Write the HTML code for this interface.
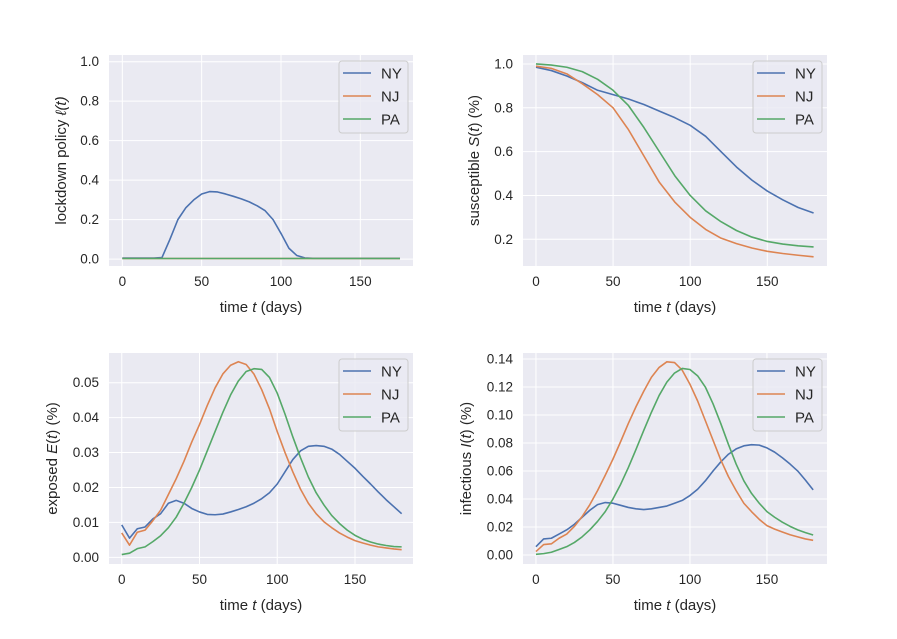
<!DOCTYPE html>
<html><head><meta charset="utf-8">
<style>
html,body{margin:0;padding:0;background:#fff;}
svg{display:block;font-family:"Liberation Sans",sans-serif;}
</style></head>
<body>
<svg id="fig" width="897" height="639" viewBox="0 0 897 639" xmlns="http://www.w3.org/2000/svg"></svg>
<script>
const states = ["NY","NJ","PA"];
const colors = ["#4c72b0","#dd8452","#55a868"];
const tLock = [0,5,10,15,20,25,30,35,40,45,50,55,60,65,70,75,80,85,90,95,100,105,110,115,120,125,130,135,140,145,150,155,160,165,170,175];
const lockNY = [0.005,0.005,0.005,0.005,0.005,0.008,0.1,0.2,0.26,0.3,0.33,0.342,0.34,0.33,0.318,0.305,0.29,0.27,0.245,0.2,0.13,0.055,0.018,0.006,0.004,0.004,0.004,0.004,0.004,0.004,0.004,0.004,0.004,0.004,0.004,0.004];
const lockNJ = tLock.map(()=>0.003);
const lockPA = tLock.map(()=>0.003);
const tS = [0,10,20,30,40,50,60,70,80,90,100,110,120,130,140,150,160,170,180];
const sNY = [0.985,0.97,0.945,0.915,0.88,0.86,0.84,0.815,0.785,0.755,0.72,0.67,0.6,0.53,0.47,0.42,0.38,0.345,0.32];
const sNJ = [0.99,0.98,0.955,0.91,0.86,0.8,0.7,0.58,0.46,0.37,0.3,0.245,0.205,0.18,0.16,0.145,0.135,0.127,0.12];
const sPA = [1.0,0.995,0.985,0.965,0.93,0.88,0.81,0.71,0.6,0.49,0.4,0.33,0.28,0.24,0.21,0.19,0.178,0.17,0.165];
const tEI = [0,5,10,15,20,25,30,35,40,45,50,55,60,65,70,75,80,85,90,95,100,105,110,115,120,125,130,135,140,145,150,155,160,165,170,175,180];
const eNY = [.0093,.0055,.0082,.0087,.011,.0125,.0155,.0163,.0155,.014,.013,.0123,.0122,.0124,.013,.0137,.0145,.0155,.0168,.0185,.021,.0245,.028,.0305,.0318,.032,.0318,.031,.0295,.0275,.0255,.0232,.021,.0187,.0165,.0145,.0125];
const eNJ = [.007,.0035,.0072,.0078,.0105,.0135,.018,.0225,.0275,.033,.038,.0435,.0485,.0525,.055,.056,.0552,.0525,.048,.0425,.036,.03,.0245,.0195,.0155,.0125,.0102,.0085,.007,.0058,.0048,.0041,.0035,.003,.0027,.0024,.0022];
const ePA = [.0008,.0012,.0025,.003,.0045,.0062,.0085,.0115,.0155,.02,.025,.0305,.036,.0415,.0465,.0505,.0532,.054,.0538,.0515,.047,.041,.0345,.0285,.023,.0185,.015,.012,.0097,.0078,.0063,.0052,.0044,.0038,.0034,.0031,.003];
const iNY = [.006,.0115,.012,.015,.018,.022,.027,.032,.036,.0375,.037,.0355,.034,.033,.0325,.033,.034,.035,.037,.039,.0425,.047,.053,.06,.0665,.072,.0758,.078,.0788,.0785,.0765,.0735,.0695,.065,.06,.0535,.0465];
const iNJ = [.0025,.0075,.008,.012,.015,.0205,.0275,.036,.046,.057,.0685,.081,.094,.106,.117,.127,.134,.138,.1375,.132,.122,.11,.096,.082,.068,.056,.046,.037,.031,.0255,.021,.0185,.0165,.0145,.013,.0115,.0105];
const iPA = [.0005,.001,.002,.004,.006,.009,.013,.018,.024,.031,.04,.0505,.0625,.0755,.089,.102,.114,.1235,.13,.1333,.1325,.128,.12,.108,.094,.079,.065,.053,.044,.037,.031,.027,.0235,.0205,.018,.016,.0143];
const xTicks = [0,50,100,150];
const yTicksL = [0,0.2,0.4,0.6,0.8,1.0];
const yTicksS = [0.2,0.4,0.6,0.8,1.0];
const yTicksE = [0,0.01,0.02,0.03,0.04,0.05];
const yTicksI = [0,0.02,0.04,0.06,0.08,0.10,0.12,0.14];

const NS="http://www.w3.org/2000/svg";
const svg=document.getElementById('fig');
function mk(tag,attrs,parent){const e=document.createElementNS(NS,tag);for(const k in attrs)e.setAttribute(k,attrs[k]);(parent||svg).appendChild(e);return e;}

function panel(cfg){
  const g=mk('g',{});
  
  
  const L=cfg.box[0],T=cfg.box[1],R=cfg.box[2],B=cfg.box[3];
  const sx=v=>L+(v-cfg.xd[0])/(cfg.xd[1]-cfg.xd[0])*(R-L);
  const sy=v=>B-(v-cfg.yd[0])/(cfg.yd[1]-cfg.yd[0])*(B-T);
  const bg=mk('rect',{x:L,y:T,width:R-L,height:B-T,fill:'#eaeaf2'},g);
  
  
  xTicks.forEach(v=>{
    mk('line',{x1:sx(v),x2:sx(v),y1:T,y2:B,stroke:'#fff','stroke-width':1},g);
    const t=mk('text',{x:sx(v),y:B+20,'text-anchor':'middle','font-size':13.5,fill:'#262626'},g);
    t.textContent=String(v);
    
    
  });
  cfg.yt.forEach(v=>{
    mk('line',{x1:L,x2:R,y1:sy(v),y2:sy(v),stroke:'#fff','stroke-width':1},g);
    const t=mk('text',{x:L-10,y:sy(v)+4.5,'text-anchor':'end','font-size':13.5,fill:'#262626'},g);
    t.textContent=v.toFixed(cfg.dec);
    
    
  });
  cfg.series.forEach((s,i)=>{
    const d=cfg.t.map((tv,j)=>(j?'L':'M')+sx(tv).toFixed(2)+','+sy(s[j]).toFixed(2)).join(' ');
    const p=mk('path',{d:d,fill:'none',stroke:colors[i],'stroke-width':1.6,'stroke-linejoin':'round'},g);
    
    
  });
  const xl=mk('text',{x:(L+R)/2,y:B+46,'text-anchor':'middle','font-size':15,fill:'#262626'},g);
  xl.innerHTML='time <tspan font-style="italic">t</tspan> (days)';
  
  
  const yx=cfg.ylx, yy=(T+B)/2;
  const yl=mk('text',{x:yx,y:yy,'text-anchor':'middle','font-size':15,fill:'#262626',transform:'rotate(-90 '+yx+' '+yy+')'},g);
  yl.innerHTML=cfg.ylab;
  
  
  const lx=R-74,ly=T+6;
  const lg=mk('g',{},g);
  
  
  mk('rect',{x:lx,y:ly,width:69,height:72,rx:3,fill:'#eaeaf2','fill-opacity':0.8,stroke:'#cccccc','stroke-width':1},lg);
  states.forEach((s,i)=>{
    const e=mk('g',{},lg);
    
    
    const yy2=ly+12+i*23;
    mk('line',{x1:lx+4,x2:lx+32,y1:yy2,y2:yy2,stroke:colors[i],'stroke-width':1.6},e);
    const t=mk('text',{x:lx+42,y:yy2+5.5,'font-size':15,fill:'#262626'},e);
    t.textContent=s;
  });
}

panel({name:'lockdown-panel',box:[109,55,413,266],xd:[-8.4,183.2],yd:[-0.035,1.034],yt:yTicksL,dec:1,t:tLock,series:[lockNY,lockNJ,lockPA],ylx:66,ylab:'lockdown policy <tspan font-style="italic">ℓ(t)</tspan>'});
panel({name:'susceptible-panel',box:[523,55,827,266],xd:[-8.4,188.7],yd:[0.078,1.041],yt:yTicksS,dec:1,t:tS,series:[sNY,sNJ,sPA],ylx:479,ylab:'susceptible <tspan font-style="italic">S</tspan>(<tspan font-style="italic">t</tspan>) (%)'});
panel({name:'exposed-panel',box:[109,353,413,564],xd:[-8.2,187.3],yd:[-0.0019,0.0585],yt:yTicksE,dec:2,t:tEI,series:[eNY,eNJ,ePA],ylx:57,ylab:'exposed <tspan font-style="italic">E</tspan>(<tspan font-style="italic">t</tspan>) (%)'});
panel({name:'infectious-panel',box:[523,353,827,564],xd:[-8.4,189],yd:[-0.0064,0.1443],yt:yTicksI,dec:2,t:tEI,series:[iNY,iNJ,iPA],ylx:471,ylab:'infectious <tspan font-style="italic">I</tspan>(<tspan font-style="italic">t</tspan>) (%)'});
</script>
</body></html>
